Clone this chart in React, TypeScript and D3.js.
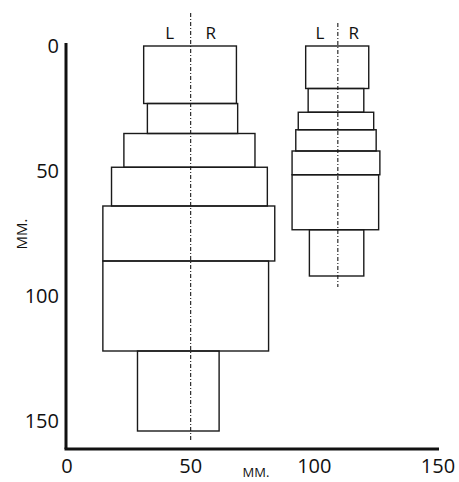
import React from 'react';
import * as d3 from 'd3';

// depth boundaries (mm) and left/right edges (mm) of each stacked block
const centers = [50, 109.5];
const leftDepths = [0, 23, 35, 48.5, 64, 86, 122, 154];
const leftLefts = [31, 32.5, 23, 18, 14.5, 14.5, 28.5];
const leftRights = [68.5, 69, 76, 81, 84, 81.5, 61.5];
const rightDepths = [0, 17, 26.5, 33.5, 42, 51.5, 73.5, 92];
const rightLefts = [96.5, 97.5, 93.5, 92.5, 91, 91, 98];
const rightRights = [122, 120, 124, 125, 126.5, 126, 120];
const xTicks = [0, 50, 100, 150];
const yTicks = [0, 50, 100, 150];

const W = 459, H = 482;
const font = "'Open Sans', 'DejaVu Sans', sans-serif";

const App = () => {
    const x = d3.scaleLinear().domain([0, 150]).range([67, 438]);
    const y = d3.scaleLinear().domain([0, 150]).range([46, 421]);
    const yMax = 161.2;

    const figures = [
        { depths: leftDepths, lefts: leftLefts, rights: leftRights, center: centers[0], lineTop: 13, lineBottom: 442, dl: 21, dr: 20 },
        { depths: rightDepths, lefts: rightLefts, rights: rightRights, center: centers[1], lineTop: 23, lineBottom: 287, dl: 18, dr: 16 },
    ];

    return (
        <svg width={W} height={H} style={{ position: 'absolute', left: 0, top: 0, background: '#fff' }}>
            {figures.map((f, fi) => (
                <g key={`fig-${fi}`}>
                    {f.lefts.map((l, i) => (
                        <rect key={`b-${i}`}
                              x={x(l)} y={y(f.depths[i])}
                              width={x(f.rights[i]) - x(l)}
                              height={y(f.depths[i + 1]) - y(f.depths[i])}
                              fill="none" stroke="#1a1a1a" strokeWidth={1.4} />
                    ))}
                    <line x1={x(f.center)} x2={x(f.center)} y1={f.lineTop} y2={f.lineBottom}
                          stroke="#1a1a1a" strokeWidth={1.1} strokeDasharray="4,2,1,2" />
                    <text x={x(f.center) - f.dl} y={39} textAnchor="middle" fontFamily={font} fontSize={17} fill="#111">L</text>
                    <text x={x(f.center) + f.dr} y={39} textAnchor="middle" fontFamily={font} fontSize={17} fill="#111">R</text>
                </g>
            ))}
            {/* axes */}
            <line x1={x(0) - 1} x2={x(0) - 1} y1={43} y2={y(yMax)} stroke="#111" strokeWidth={3} />
            <line x1={x(0) - 2.5} x2={x(150) + 1} y1={y(yMax)} y2={y(yMax)} stroke="#111" strokeWidth={3} />
            {yTicks.map((t) => (
                <text key={`yt-${t}`} x={59} y={y(t) + 7} textAnchor="end" fontFamily={font} fontSize={20} fill="#111">{t}</text>
            ))}
            {xTicks.map((t) => (
                <text key={`xt-${t}`} x={x(t)} y={473} textAnchor="middle" fontFamily={font} fontSize={20} fill="#111">{t}</text>
            ))}
            <text transform="translate(27, 234) rotate(-90)" textAnchor="middle" fontFamily={font} fontSize={15} fill="#111">MM.</text>
            <text x={256} y={477} textAnchor="middle" fontFamily={font} fontSize={13} fill="#111">MM.</text>
        </svg>
    );
};

export default App;
